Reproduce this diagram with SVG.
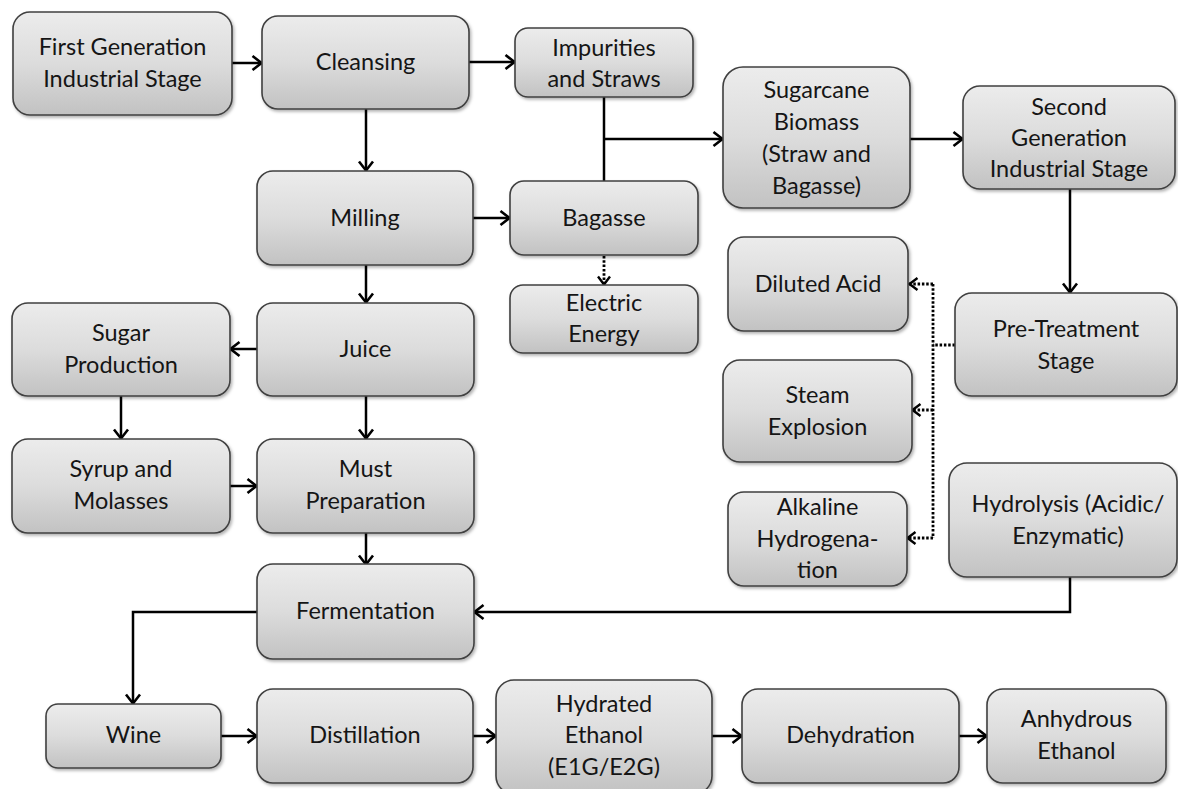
<svg xmlns="http://www.w3.org/2000/svg" width="1178" height="789" viewBox="0 0 1178 789">
<style>
.box{fill:url(#g);stroke:#404040;stroke-width:1.6;filter:url(#sh)}
.t{font-family:Lato,"Liberation Sans",sans-serif;font-size:23.5px;fill:#151515;text-anchor:middle}
.c{fill:none;stroke:#000;stroke-width:2.5}
.a{marker-end:url(#ah)}
.d{fill:none;stroke:#000;stroke-width:2.8;stroke-dasharray:2.5 1.8}
.ad{marker-end:url(#ahd)}
</style>
<defs>
<linearGradient id="g" x1="0" y1="0" x2="0" y2="1">
<stop offset="0" stop-color="#ececec"/>
<stop offset="0.5" stop-color="#dcdcdc"/>
<stop offset="1" stop-color="#c2c2c2"/>
</linearGradient>
<filter id="sh" x="-10%" y="-10%" width="125%" height="130%">
<feDropShadow dx="1.5" dy="2" stdDeviation="1.5" flood-color="#000" flood-opacity="0.3"/>
</filter>
<marker id="ah" markerUnits="userSpaceOnUse" markerWidth="14" markerHeight="18" viewBox="0 0 14 18" refX="11.5" refY="9" orient="auto">
<path d="M2,2 L11,9 L2,16" fill="none" stroke="#000" stroke-width="2.6"/>
</marker>
<marker id="ahd" markerUnits="userSpaceOnUse" markerWidth="14" markerHeight="18" viewBox="0 0 14 18" refX="11.5" refY="9" orient="auto">
<path d="M3,3 L11,9 L3,15" fill="none" stroke="#000" stroke-width="2.4"/>
</marker>
</defs>

<g id="connectors">
<path class="c a" d="M232,63 H262"/>
<path class="c a" d="M469,62 H515"/>
<path class="c a" d="M366,109 V171"/>
<path class="c" d="M604,97 V181"/>
<path class="c a" d="M604,139 H723"/>
<path class="c a" d="M910,139 H963"/>
<path class="c a" d="M1070,189 V293"/>
<path class="c a" d="M473,218 H510"/>
<path class="d ad" d="M604,256 V285"/>
<path class="c a" d="M366,265 V303"/>
<path class="c a" d="M257,349 H230"/>
<path class="c a" d="M121,396 V439"/>
<path class="c a" d="M366,396 V439"/>
<path class="c a" d="M230,486 H257"/>
<path class="c a" d="M366,533 V565"/>
<path class="c a" d="M257,612 H133 V704"/>
<path class="c a" d="M1070,577 V612 H474"/>
<path class="c a" d="M221,736 H257"/>
<path class="c a" d="M473,736 H496"/>
<path class="c a" d="M712,736 H742"/>
<path class="c a" d="M959,736 H987"/>
<path class="d" d="M955,345 H933"/>
<path class="d" d="M933,284 V538"/>
<path class="d ad" d="M933,284 H909"/>
<path class="d ad" d="M933,410 H912"/>
<path class="d ad" d="M933,538 H907"/>
</g>

<g id="first-gen"><rect class="box" x="13" y="12" width="219" height="103" rx="17"/>
<text class="t" x="122.5" y="55">First Generation</text><text class="t" x="122.5" y="87">Industrial Stage</text></g>

<g id="cleansing"><rect class="box" x="262" y="16" width="207" height="93" rx="16"/>
<text class="t" x="365.5" y="70">Cleansing</text></g>

<g id="impurities"><rect class="box" x="515" y="28" width="178" height="69" rx="13"/>
<text class="t" x="604" y="56">Impurities</text><text class="t" x="604" y="87">and Straws</text></g>

<g id="biomass"><rect class="box" x="723" y="67" width="187" height="141" rx="20"/>
<text class="t" x="816.5" y="98">Sugarcane</text><text class="t" x="816.5" y="130">Biomass</text><text class="t" x="816.5" y="162">(Straw and</text><text class="t" x="816.5" y="194">Bagasse)</text></g>

<g id="second-gen"><rect class="box" x="963" y="86" width="212" height="103" rx="17"/>
<text class="t" x="1069" y="115">Second</text><text class="t" x="1069" y="146">Generation</text><text class="t" x="1069" y="177">Industrial Stage</text></g>

<g id="milling"><rect class="box" x="257" y="171" width="216" height="94" rx="16"/>
<text class="t" x="365" y="226">Milling</text></g>

<g id="bagasse"><rect class="box" x="510" y="181" width="188" height="74" rx="14"/>
<text class="t" x="604" y="226">Bagasse</text></g>

<g id="electric"><rect class="box" x="510" y="285" width="188" height="68" rx="13"/>
<text class="t" x="604" y="311">Electric</text><text class="t" x="604" y="342">Energy</text></g>

<g id="diluted-acid"><rect class="box" x="728" y="237" width="180" height="94" rx="16"/>
<text class="t" x="818" y="292">Diluted Acid</text></g>

<g id="pre-treatment"><rect class="box" x="955" y="293" width="222" height="103" rx="17"/>
<text class="t" x="1066" y="337">Pre-Treatment</text><text class="t" x="1066" y="369">Stage</text></g>

<g id="steam"><rect class="box" x="723" y="360" width="189" height="102" rx="17"/>
<text class="t" x="817.5" y="403">Steam</text><text class="t" x="817.5" y="435">Explosion</text></g>

<g id="alkaline"><rect class="box" x="728" y="492" width="179" height="94" rx="16"/>
<text class="t" x="817.5" y="515">Alkaline</text><text class="t" x="817.5" y="547">Hydrogena-</text><text class="t" x="817.5" y="578">tion</text></g>

<g id="hydrolysis"><rect class="box" x="949" y="463" width="228" height="114" rx="18"/>
<text class="t" x="1068" y="512">Hydrolysis (Acidic/</text><text class="t" x="1068" y="544">Enzymatic)</text></g>

<g id="sugar-production"><rect class="box" x="12" y="303" width="218" height="93" rx="16"/>
<text class="t" x="121" y="341">Sugar</text><text class="t" x="121" y="373">Production</text></g>

<g id="juice"><rect class="box" x="257" y="303" width="217" height="93" rx="16"/>
<text class="t" x="365.5" y="357">Juice</text></g>

<g id="syrup"><rect class="box" x="12" y="439" width="218" height="94" rx="16"/>
<text class="t" x="121" y="477">Syrup and</text><text class="t" x="121" y="509">Molasses</text></g>

<g id="must"><rect class="box" x="257" y="439" width="217" height="94" rx="16"/>
<text class="t" x="365.5" y="477">Must</text><text class="t" x="365.5" y="509">Preparation</text></g>

<g id="fermentation"><rect class="box" x="257" y="564" width="217" height="95" rx="16"/>
<text class="t" x="365.5" y="619">Fermentation</text></g>

<g id="wine"><rect class="box" x="46" y="704" width="175" height="64" rx="12"/>
<text class="t" x="133.5" y="743">Wine</text></g>

<g id="distillation"><rect class="box" x="257" y="689" width="216" height="94" rx="16"/>
<text class="t" x="365" y="743">Distillation</text></g>

<g id="hydrated"><rect class="box" x="496" y="680" width="216" height="114" rx="18"/>
<text class="t" x="604" y="712">Hydrated</text><text class="t" x="604" y="743">Ethanol</text><text class="t" x="604" y="775">(E1G/E2G)</text></g>

<g id="dehydration"><rect class="box" x="742" y="689" width="217" height="94" rx="16"/>
<text class="t" x="850.5" y="743">Dehydration</text></g>

<g id="anhydrous"><rect class="box" x="987" y="689" width="179" height="94" rx="16"/>
<text class="t" x="1076.5" y="727">Anhydrous</text><text class="t" x="1076.5" y="759">Ethanol</text></g>
</svg>
